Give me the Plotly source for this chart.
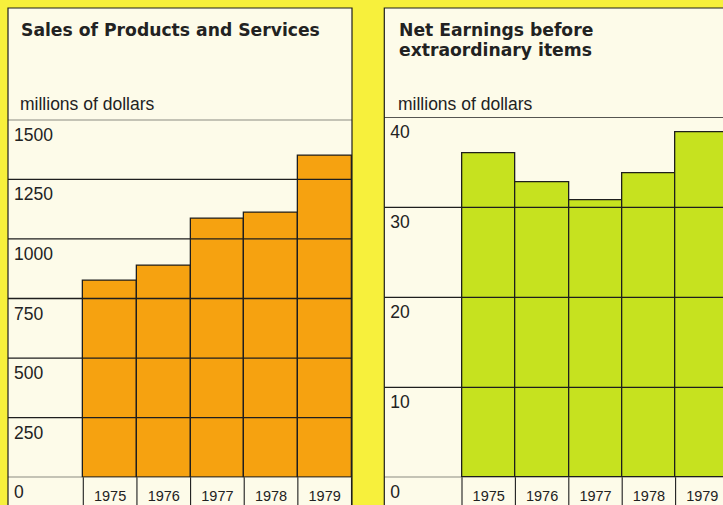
import plotly.graph_objects as go

# ---------------- data ----------------
years = ["1975", "1976", "1977", "1978", "1979"]
sales = [823, 886, 1085, 1112, 1348]            # millions of dollars
earnings = [36.0, 32.8, 30.8, 33.8, 38.3]        # millions of dollars
sales_ticks = [0, 250, 500, 750, 1000, 1250, 1500]
earn_ticks = [0, 10, 20, 30, 40]

left_title = ["Sales of Products and Services"]
right_title = ["Net Earnings before", "extraordinary items"]
unit_label = "millions of dollars"

# ---------------- style ----------------
W, H = 723, 505
BG = "#f7f03c"
PANEL = "#fdfbe9"
ORANGE = "#f6a210"
GREEN = "#c6e21f"
INK = "#222222"
LINE = "#1e1e1e"
FONT = "Liberation Sans"
TFONT = "DejaVu Sans"


def fx(p):
    return p / W


def fy(p):
    return 1 - p / H


# panel geometry (pixels)
L_x0, L_x1 = 8, 352
R_x0, R_x1 = 384.3, 723
P_top = 8
base_px = 477.3
L_top_px = 119.7
R_top_px = 117.3
L_bar0 = 83.3
L_bw = (351.5 - 83.3) / 5
R_bar0 = 462.0
R_bw = 53.4

L_range = [-0.5 - (L_bar0 - L_x0) / L_bw, -0.5 + (L_x1 - L_bar0) / L_bw]
R_range = [-0.5 - (R_bar0 - R_x0) / R_bw, -0.5 + (R_x1 - R_bar0) / R_bw]

xs = list(range(len(years)))

fig = go.Figure()
fig.add_trace(go.Bar(x=xs, y=sales, width=1, marker=dict(color=ORANGE, line=dict(color=LINE, width=1.3)),
                     xaxis="x", yaxis="y", showlegend=False, hoverinfo="skip"))
fig.add_trace(go.Bar(x=xs, y=earnings, width=1, marker=dict(color=GREEN, line=dict(color=LINE, width=1.3)),
                     xaxis="x2", yaxis="y2", showlegend=False, hoverinfo="skip"))

shapes = []
# panels
for x0, x1 in [(L_x0, L_x1), (R_x0, R_x1 + 10)]:
    shapes.append(dict(type="rect", xref="paper", yref="paper", x0=fx(x0), x1=fx(x1), y0=-0.1, y1=fy(P_top),
                       fillcolor=PANEL, line=dict(color=LINE, width=1.2), layer="below"))
# grid lines on top of bars
for xa, ya, ticks in [("x", "y", sales_ticks), ("x2", "y2", earn_ticks)]:
    for t in ticks:
        shapes.append(dict(type="line", xref=xa + " domain", yref=ya, x0=0, x1=1, y0=t, y1=t,
                           line=dict(color=LINE, width=1.3), layer="above"))
# separators under year labels
for xa in ["x", "x2"]:
    for i in range(len(years) + 1):
        shapes.append(dict(type="line", xref=xa, yref="paper", x0=i - 0.5, x1=i - 0.5,
                           y0=fy(base_px), y1=-0.05, line=dict(color=LINE, width=1.1), layer="above"))

annotations = []
for lines, x0, ys in [(left_title, 19, [30]), (right_title, 397, [29.5, 50])]:
    for txt, yy in zip(lines, ys):
        annotations.append(dict(text="<b>" + txt + "</b>", x=fx(x0), y=fy(yy), xref="paper", yref="paper",
                                xanchor="left", yanchor="middle", showarrow=False,
                                font=dict(family=TFONT, size=17.2, color=INK)))
for x0 in [18, 396]:
    annotations.append(dict(text=unit_label, x=fx(x0), y=fy(104), xref="paper", yref="paper",
                            xanchor="left", yanchor="middle", showarrow=False,
                            font=dict(family=FONT, size=17.5, color=INK)))

xax_common = dict(tickmode="array", tickvals=xs, ticktext=years, ticks="", showgrid=False, zeroline=False,
                  showline=False, fixedrange=True, tickfont=dict(family=FONT, size=14.5, color=INK),
                  ticklabelstandoff=8, automargin=False)
yax_common = dict(tickmode="array", ticks="", showgrid=False, zeroline=False, showline=False,
                  side="right", anchor="free", ticklabelposition="outside",
                  ticklabelshift=15, ticklabelstandoff=5, automargin=False,
                  tickfont=dict(family=FONT, size=17.5, color=INK), fixedrange=True)

fig.update_layout(
    template="none",
    width=W, height=H, margin=dict(l=0, r=0, t=0, b=0, pad=0, autoexpand=False),
    paper_bgcolor=BG, plot_bgcolor="rgba(0,0,0,0)",
    bargap=0, hovermode=False,
    xaxis=dict(domain=[fx(L_x0), fx(L_x1)], range=L_range, anchor="y", **xax_common),
    yaxis=dict(domain=[fy(base_px), fy(L_top_px)], range=[0, 1500], position=fx(L_x0),
               tickvals=sales_ticks, ticktext=[str(t) for t in sales_ticks], **yax_common),
    xaxis2=dict(domain=[fx(R_x0), 1], range=R_range, anchor="y2", **xax_common),
    yaxis2=dict(domain=[fy(base_px), fy(R_top_px)], range=[0, 40], position=fx(R_x0),
                tickvals=earn_ticks, ticktext=[str(t) for t in earn_ticks], **yax_common),
    shapes=shapes, annotations=annotations,
)

fig.write_html("out.html", config={"displayModeBar": False},
               post_script="document.body.style.margin='0';document.body.style.overflow='hidden';")
